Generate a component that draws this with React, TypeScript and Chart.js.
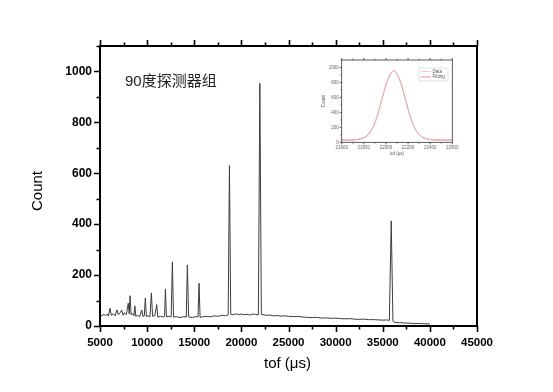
import React, { useEffect, useRef } from 'react';
import { Chart, registerables } from 'chart.js';

Chart.register(...registerables);

const FONT = '"Liberation Sans", Arial, "Noto Sans CJK SC", sans-serif';

// Main spectrum (tof in µs, counts)
const tofUs = [
  5000, 5200, 5400, 5600, 5800, 5900, 6060, 6200, 6400, 6600, 6800, 6950, 7100, 7300, 7450, 7600, 7800, 8000,
  8100, 8190, 8300, 8450, 8600, 8700, 8800, 9000, 9200, 9430, 9550, 9700, 9810, 9920, 10100, 10300, 10450,
  10580, 10800, 11020, 11130, 11400, 11700, 11850, 11940, 12050, 12300, 12550, 12680, 12800, 13100, 13500,
  13900, 14150, 14270, 14400, 14800, 15100, 15400, 15510, 15620, 15900, 16300, 16700, 17100, 17500, 17900,
  18300, 18600, 18735, 18870, 19100, 19400, 19700, 20000, 20300, 20600, 20900, 21200, 21500, 21800, 21960,
  22120, 22400, 22700, 23000, 23400, 23800, 24200, 24600, 25000, 25500, 26000, 26500, 27000, 27500, 28000,
  28500, 29000, 29500, 30000, 30500, 31000, 31500, 32000, 32500, 33000, 33500, 34000, 34500, 35000, 35400,
  35700, 35900, 36080, 36300, 36800, 37300, 37800, 38300, 38800, 39300, 40000,
];
const counts = [
  44, 40, 46, 41, 47, 39, 70, 42, 48, 40, 63, 44, 50, 63, 42, 52, 45, 90,
  48, 119, 44, 50, 40, 79, 38, 42, 36, 63, 38, 40, 110, 37, 40, 36, 130,
  38, 40, 84, 35, 38, 35, 37, 145, 36, 38, 36, 252, 35, 37, 33,
  37, 35, 240, 36, 33, 37, 35, 168, 34, 36, 38, 36, 40, 38, 42,
  40, 44, 630, 46, 44, 48, 45, 47, 44, 46, 43, 47, 45, 44, 953,
  46, 44, 42, 43, 40, 41, 39, 40, 38, 37, 38, 35, 34, 33, 34,
  31, 32, 30, 31, 29, 28, 29, 27, 26, 27, 25, 25, 24, 23, 24,
  22, 413, 20, 14, 13, 12, 11, 10, 10, 9, 8,
];

// Inset: zoom on the ~22000 µs peak
const insetTof = [21600, 21700, 21770, 21820, 21870, 21920, 21970, 22020, 22070, 22120, 22170, 22220, 22270, 22320, 22370, 22450, 22600];
const insetData = [32, 30, 50, 80, 170, 340, 615, 845, 955, 845, 605, 350, 160, 80, 44, 33, 31];
const insetFit = [30, 32, 46, 77, 165, 345, 610, 850, 953, 850, 610, 345, 165, 77, 46, 32, 30];

const titleText = '90度探测器组';
const xTitle = 'tof (μs)';
const yTitle = 'Count';
const legendLabels = ['Data', 'Fitting'];

const mainFrame = {
  id: 'mainFrame',
  afterDraw(chart: any) {
    const { ctx, chartArea: a, scales } = chart;
    const x = scales.x;
    const y = scales.y;
    ctx.save();
    ctx.strokeStyle = '#000';
    ctx.lineWidth = 2;
    ctx.strokeRect(a.left, a.top, a.right - a.left, a.bottom - a.top);
    ctx.lineWidth = 1.6;
    ctx.beginPath();
    for (let v = 5000; v <= 45000; v += 2500) {
      const px = Math.round(x.getPixelForValue(v)) + 0.5;
      const len = v % 5000 === 0 ? 6 : 3.5;
      ctx.moveTo(px, a.bottom);
      ctx.lineTo(px, a.bottom + len);
      ctx.moveTo(px, a.top);
      ctx.lineTo(px, a.top - len);
    }
    for (let v = 0; v <= 1100; v += 100) {
      const py = Math.round(y.getPixelForValue(v)) + 0.5;
      const len = v % 200 === 0 ? 6 : 3.5;
      ctx.moveTo(a.left, py);
      ctx.lineTo(a.left - len, py);
    }
    ctx.stroke();

    ctx.fillStyle = '#222';
    ctx.font = `15px ${FONT}`;
    ctx.textBaseline = 'middle';
    ctx.textAlign = 'left';
    ctx.fillText(titleText, 125, 82);

    ctx.fillStyle = '#000';
    ctx.textAlign = 'center';
    ctx.font = `15px ${FONT}`;
    ctx.fillText(xTitle, (a.left + a.right) / 2 - 1, 364);
    ctx.translate(38, 191);
    ctx.rotate(-Math.PI / 2);
    ctx.fillText(yTitle, 0, 0);
    ctx.restore();
  },
};

const insetFrame = {
  id: 'insetFrame',
  afterDraw(chart: any) {
    const { ctx, chartArea: a, scales } = chart;
    const x = scales.x;
    const y = scales.y;
    ctx.save();
    ctx.strokeStyle = '#333';
    ctx.lineWidth = 0.8;
    ctx.strokeRect(a.left, a.top, a.right - a.left, a.bottom - a.top);
    ctx.beginPath();
    for (let v = 21600; v <= 22600; v += 100) {
      const px = x.getPixelForValue(v);
      const len = v % 200 === 0 ? 2 : 1.2;
      ctx.moveTo(px, a.bottom);
      ctx.lineTo(px, a.bottom + len);
      ctx.moveTo(px, a.top);
      ctx.lineTo(px, a.top - len);
    }
    for (let v = 0; v <= 1100; v += 100) {
      const py = y.getPixelForValue(v);
      const len = v % 200 === 0 ? 2 : 1.2;
      ctx.moveTo(a.left, py);
      ctx.lineTo(a.left - len, py);
    }
    ctx.stroke();

    // legend
    ctx.strokeStyle = '#ccc';
    ctx.lineWidth = 0.6;
    ctx.strokeRect(104, 16, 29, 13);
    const cols = ['#e9bcc2', '#e06a78'];
    ctx.font = `4.5px ${FONT}`;
    ctx.fillStyle = '#555';
    ctx.textBaseline = 'middle';
    ctx.textAlign = 'left';
    legendLabels.forEach((lab, i) => {
      const ly = 19.5 + i * 5.5;
      ctx.strokeStyle = cols[i];
      ctx.lineWidth = 0.8;
      ctx.beginPath();
      ctx.moveTo(106, ly);
      ctx.lineTo(116, ly);
      ctx.stroke();
      ctx.fillText(lab, 117.5, ly);
    });

    ctx.textAlign = 'center';
    ctx.fillText(xTitle, (a.left + a.right) / 2, 102);
    ctx.translate(9, (a.top + a.bottom) / 2);
    ctx.rotate(-Math.PI / 2);
    ctx.fillText(yTitle, 0, 0);
    ctx.restore();
  },
};

export default function App() {
  const mainRef = useRef<HTMLCanvasElement>(null);
  const insetRef = useRef<HTMLCanvasElement>(null);

  useEffect(() => {
    document.body.style.margin = '0';
    const tickFont = { family: FONT, size: 11.5, weight: 'bold' as const };
    const main = new Chart(mainRef.current!, {
      type: 'line',
      data: {
        datasets: [
          {
            data: tofUs.map((t, i) => ({ x: t, y: counts[i] })),
            borderColor: '#3c3c3c',
            borderWidth: 1,
            pointRadius: 0,
            tension: 0,
            fill: false,
          },
        ],
      },
      options: {
        animation: false,
        responsive: false,
        events: [],
        layout: { padding: { left: 0, right: 76, top: 46, bottom: 0 } },
        plugins: { legend: { display: false }, tooltip: { enabled: false } },
        scales: {
          x: {
            type: 'linear',
            min: 5000,
            max: 45000,
            ticks: {
              stepSize: 5000,
              font: tickFont,
              color: '#000',
              padding: 4,
              maxRotation: 0,
              autoSkip: false,
              callback: (v: any) => String(v),
            },
            grid: { display: false, drawTicks: true, tickLength: 6 },
            border: { display: false },
            afterFit: (s: any) => {
              s.height = 66;
            },
          },
          y: {
            type: 'linear',
            min: 0,
            max: 1100,
            ticks: {
              stepSize: 200,
              font: { ...tickFont, size: 12 },
              color: '#000',
              padding: 2,
              callback: (v: any) => String(v),
            },
            afterBuildTicks: (s: any) => {
              s.ticks = s.ticks.filter((t: any) => t.value % 200 === 0);
            },
            grid: { display: false, drawTicks: true, tickLength: 6 },
            border: { display: false },
            afterFit: (s: any) => {
              s.width = 100;
            },
          },
        },
      },
      plugins: [mainFrame],
    });

    const smallFont = { family: FONT, size: 4.5 };
    const inset = new Chart(insetRef.current!, {
      type: 'line',
      data: {
        datasets: [
          {
            data: insetTof.map((t, i) => ({ x: t, y: insetData[i] })),
            borderColor: '#e9bcc2',
            borderWidth: 1,
            pointRadius: 0,
            tension: 0.3,
          },
          {
            data: insetTof.map((t, i) => ({ x: t, y: insetFit[i] })),
            borderColor: '#e06a78',
            borderWidth: 0.9,
            pointRadius: 0,
            tension: 0.4,
          },
        ],
      },
      options: {
        animation: false,
        responsive: false,
        events: [],
        layout: { padding: { left: 0, right: 22.7, top: 8, bottom: 0 } },
        plugins: { legend: { display: false }, tooltip: { enabled: false } },
        scales: {
          x: {
            type: 'linear',
            min: 21600,
            max: 22600,
            ticks: {
              stepSize: 200,
              font: smallFont,
              color: '#666',
              padding: 1,
              maxRotation: 0,
              autoSkip: false,
              callback: (v: any) => String(v),
            },
            grid: { display: false, drawTicks: true, tickLength: 2 },
            border: { display: false },
            afterFit: (s: any) => {
              s.height = 17.7;
            },
          },
          y: {
            type: 'linear',
            min: 0,
            max: 1100,
            ticks: {
              stepSize: 200,
              font: smallFont,
              color: '#666',
              padding: 1,
              callback: (v: any) => String(v),
            },
            afterBuildTicks: (s: any) => {
              s.ticks = s.ticks.filter((t: any) => t.value % 200 === 0);
            },
            grid: { display: false, drawTicks: true, tickLength: 2 },
            border: { display: false },
            afterFit: (s: any) => {
              s.width = 26.7;
            },
          },
        },
      },
      plugins: [insetFrame],
    });

    return () => {
      main.destroy();
      inset.destroy();
    };
  }, []);

  return (
    <div style={{ position: 'absolute', left: 0, top: 0, width: 553, height: 392, background: '#fff' }}>
      <canvas ref={mainRef} width={553} height={392} style={{ position: 'absolute', left: 0, top: 0, width: 553, height: 392 }} />
      <canvas ref={insetRef} width={160} height={108} style={{ position: 'absolute', left: 315, top: 52, width: 160, height: 108 }} />
    </div>
  );
}
